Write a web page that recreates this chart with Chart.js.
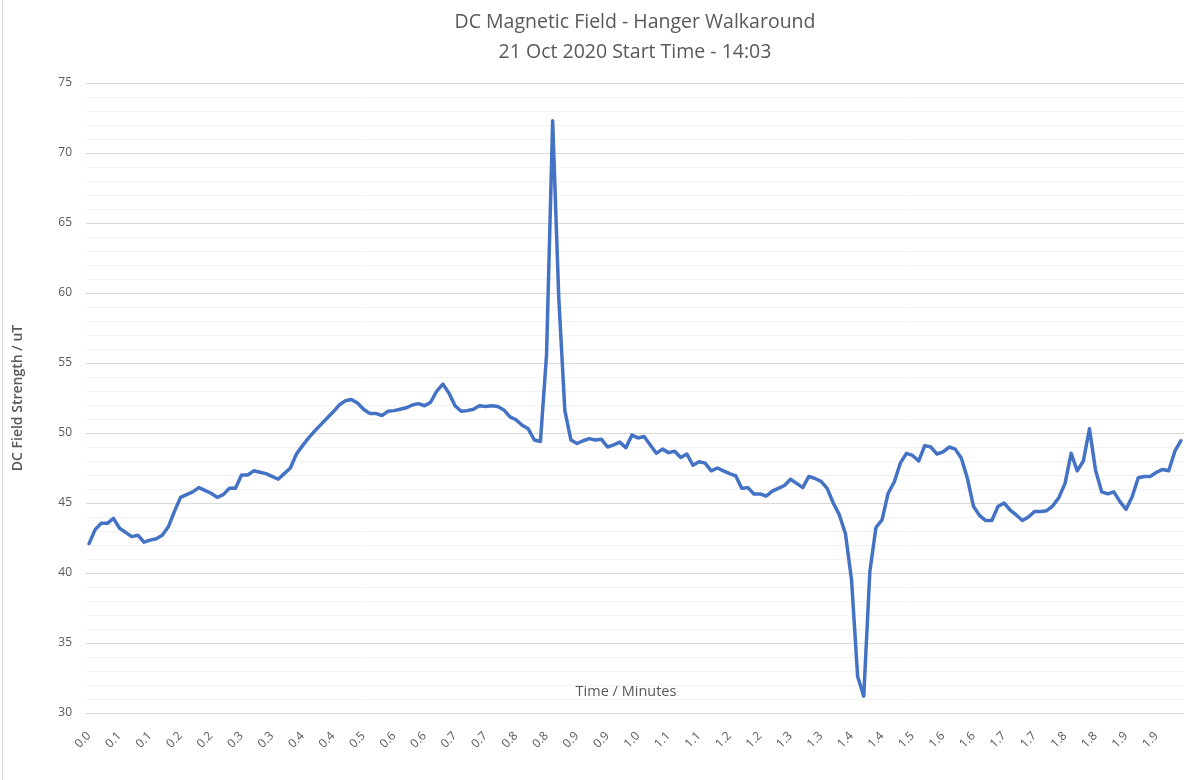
<!DOCTYPE html>
<html lang="en">
<head>
<meta charset="UTF-8">
<script src="https://cdn.jsdelivr.net/npm/chart.js"></script>
<title>DC Magnetic Field - Hanger Walkaround</title>
<style>
  body { margin: 0; background: #fff; }
  .wrap { position: relative; width: 1184px; height: 780px; }
  .edge { position: absolute; left: 2px; top: 0; bottom: 0; border-left: 1px solid #d9d9d9; }
</style>
</head>
<body>
<div class="wrap">
  <canvas id="fieldChart" width="1184" height="780"></canvas>
  <div class="edge"></div>
</div>
<script>
// Chart text
const titleLines = ['DC Magnetic Field - Hanger Walkaround', '21 Oct 2020 Start Time - 14:03'];
const yTitle = 'DC Field Strength / uT';
const xTitle = 'Time / Minutes';

// x tick labels, one every 5 samples
const tickLabels = ['0.0','0.1','0.1','0.2','0.2','0.3','0.3','0.4','0.4','0.5','0.6','0.6',
  '0.7','0.7','0.8','0.8','0.9','0.9','1.0','1.1','1.1','1.2','1.2','1.3','1.3','1.4','1.4',
  '1.5','1.6','1.6','1.7','1.7','1.8','1.8','1.9','1.9'];

// field strength readings (uT)
const fieldValues = [
  42.1, 43.1, 43.55, 43.55, 43.9, 43.2, 42.9, 42.6, 42.7, 42.2,
  42.35, 42.45, 42.7, 43.3, 44.4, 45.4, 45.6, 45.8, 46.1, 45.9,
  45.7, 45.4, 45.6, 46.05, 46.05, 47.0, 47.0, 47.3, 47.2, 47.1,
  46.9, 46.7, 47.1, 47.5, 48.5, 49.1, 49.65, 50.15, 50.6, 51.05,
  51.5, 52.0, 52.3, 52.4, 52.15, 51.7, 51.4, 51.4, 51.25, 51.55,
  51.6, 51.7, 51.8, 52.0, 52.1, 51.95, 52.2, 53.0, 53.5, 52.85,
  51.95, 51.55, 51.6, 51.7, 51.95, 51.9, 51.95, 51.9, 51.65, 51.15,
  50.95, 50.55, 50.3, 49.5, 49.4, 55.6, 72.3, 59.7, 51.6, 49.5,
  49.25, 49.45, 49.6, 49.5, 49.55, 49.0, 49.15, 49.35, 48.95, 49.85,
  49.65, 49.75, 49.15, 48.55, 48.85, 48.6, 48.7, 48.25, 48.5, 47.7,
  47.95, 47.85, 47.3, 47.5, 47.3, 47.1, 46.95, 46.05, 46.1, 45.65,
  45.65, 45.5, 45.85, 46.05, 46.25, 46.7, 46.4, 46.1, 46.9, 46.75,
  46.55, 46.05, 45.0, 44.15, 42.8, 39.5, 32.6, 31.2, 40.1, 43.25,
  43.8, 45.7, 46.5, 47.85, 48.55, 48.4, 48.0, 49.1, 49.0, 48.5,
  48.65, 49.0, 48.85, 48.2, 46.75, 44.75, 44.1, 43.75, 43.75, 44.75,
  45.0, 44.5, 44.15, 43.75, 44.0, 44.4, 44.4, 44.45, 44.8, 45.4,
  46.4, 48.55, 47.3, 48.0, 50.3, 47.35, 45.8, 45.65, 45.8, 45.1,
  44.55, 45.45, 46.8, 46.9, 46.9, 47.2, 47.4, 47.3, 48.7, 49.45
];

const yMin = 30, yMax = 75, yMajor = 5;

const labels = fieldValues.map((v, i) => (i % 5 === 0 ? tickLabels[i / 5] : ''));

const FONT = "'Open Sans', 'Noto Sans', sans-serif";
const GREY = '#595959';

// Excel puts the x axis title inside the plot, just above the bottom line
const innerXTitle = {
  id: 'innerXTitle',
  afterDraw(chart) {
    const { ctx, chartArea } = chart;
    ctx.save();
    ctx.font = '14.5px ' + FONT;
    ctx.fillStyle = GREY;
    ctx.textAlign = 'center';
    ctx.textBaseline = 'middle';
    ctx.fillText(xTitle, (chartArea.left + chartArea.right) / 2 - 9, chartArea.bottom - 21);
    ctx.restore();
  }
};

const ctx = document.getElementById('fieldChart').getContext('2d');
new Chart(ctx, {
  type: 'line',
  data: {
    labels: labels,
    datasets: [{
      label: 'DC Field',
      data: fieldValues,
      borderColor: '#4472C4',
      borderWidth: 3.5,
      pointRadius: 0,
      tension: 0,
      borderJoinStyle: 'round',
      borderCapStyle: 'round'
    }]
  },
  options: {
    responsive: false,
    animation: false,
    layout: { padding: { left: 0, right: 0, top: 0, bottom: 7 } },
    plugins: {
      legend: { display: false },
      tooltip: { enabled: false },
      title: {
        display: true,
        fullSize: false,
        text: titleLines,
        color: GREY,
        font: { family: FONT, size: 19.5, weight: 'normal', lineHeight: 1.54 },
        padding: { top: 7, bottom: 16 }
      }
    },
    scales: {
      x: {
        offset: true,
        grid: { display: false, drawTicks: false },
        border: { display: false },
        ticks: {
          autoSkip: false,
          minRotation: 45,
          maxRotation: 45,
          padding: 16,
          color: GREY,
          font: { family: FONT, size: 12 }
        },
        afterFit(scale) {
          scale.height = 60;
          scale.paddingLeft = 0;
          scale.paddingRight = 0;
        }
      },
      y: {
        min: yMin,
        max: yMax,
        grid: {
          drawTicks: false,
          color: c => (c.tick.value % yMajor === 0 ? '#d9d9d9' : '#f2f2f2'),
          lineWidth: 1
        },
        border: { display: false },
        ticks: {
          stepSize: 1,
          autoSkip: false,
          maxTicksLimit: 100,
          padding: 14,
          color: GREY,
          font: { family: FONT, size: 12 },
          callback: v => (v % yMajor === 0 ? v : '')
        },
        title: {
          display: true,
          text: yTitle,
          color: GREY,
          font: { family: FONT, size: 14, weight: '600' },
          padding: { top: 10, bottom: 0 }
        },
        afterFit(scale) { scale.width = 86; }
      }
    }
  },
  plugins: [innerXTitle]
});
</script>
</body>
</html>
